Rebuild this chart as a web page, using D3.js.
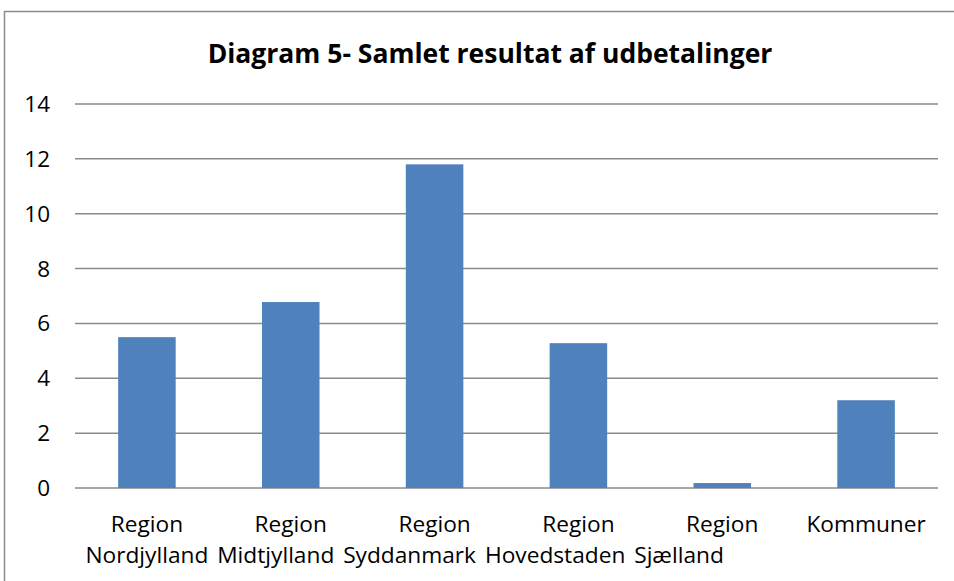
<!DOCTYPE html>
<html>
<head>
<meta charset="utf-8">
<script src="https://cdn.jsdelivr.net/npm/d3@7"></script>
<style>
  body { margin: 0; background: #fff; }
  text { font-family: "Open Sans", Lato, sans-serif; fill: #000; }
</style>
</head>
<body>
<svg id="chart" width="954" height="581"></svg>
<script>
const categories = [
    ['Region', 'Nordjylland'],
    ['Region', 'Midtjylland'],
    ['Region', 'Syddanmark'],
    ['Region', 'Hovedstaden'],
    ['Region', 'Sjælland'],
    ['Kommuner']
]
const values = [5.5, 6.78, 11.8, 5.28, 0.18, 3.2]
const yTicks = [0, 2, 4, 6, 8, 10, 12, 14]

const svg = d3.select('#chart')
const margin = { left: 75, right: 16, top: 104, bottom: 93 }
const width = 954, height = 581

// outer frame
svg.append('rect')
    .attr('x', 4.5).attr('y', 11.5)
    .attr('width', 960).attr('height', 600)
    .attr('fill', 'none')
    .attr('stroke', '#8c8c8c')
    .attr('stroke-width', 1.5)

svg.append('text')
    .attr('x', 490).attr('y', 63)
    .attr('text-anchor', 'middle')
    .style('font-size', '26.5px')
    .style('font-weight', 'bold')
    .text('Diagram 5- Samlet resultat af udbetalinger')

const x = d3.scaleBand()
    .domain(d3.range(categories.length))
    .range([margin.left, width - margin.right])
    .paddingInner(0.6)
    .paddingOuter(0.3)

const y = d3.scaleLinear()
    .domain([0, 14])
    .range([height - margin.bottom, margin.top])

// gridlines
svg.append('g')
    .selectAll('line')
    .data(yTicks)
    .join('line')
    .attr('x1', margin.left).attr('x2', width - margin.right)
    .attr('y1', d => y(d)).attr('y2', d => y(d))
    .attr('stroke', '#8a8a8a')
    .attr('stroke-width', 1.5)

svg.append('g')
    .selectAll('text')
    .data(yTicks)
    .join('text')
    .attr('x', 50)
    .attr('y', d => y(d) + 8)
    .attr('text-anchor', 'end')
    .style('font-size', '22.5px')
    .text(d => d)

svg.append('g')
    .selectAll('rect')
    .data(values)
    .join('rect')
    .attr('x', (d, i) => x(i))
    .attr('width', x.bandwidth())
    .attr('y', d => y(d))
    .attr('height', d => y(0) - y(d))
    .attr('fill', '#4f81bd')

const cx = i => x(i) + x.bandwidth() / 2

// first line: centred under each bar
svg.append('g')
    .selectAll('text')
    .data(categories)
    .join('text')
    .attr('x', (d, i) => cx(i))
    .attr('y', 532)
    .attr('text-anchor', 'middle')
    .style('font-size', '22.7px')
    .text(d => d[0])

// second line: the wrapped words run on as one line, like the original
const second = categories.filter(d => d.length > 1).map(d => d[1])
const line2 = svg.append('text')
    .attr('y', 563)
    .style('font-size', '22.7px')
    .style('word-spacing', '3px')
    .text(second.join(' '))
const firstW = line2.node().getSubStringLength(0, second[0].length)
line2.attr('x', cx(0) - firstW / 2)
</script>
</body>
</html>
